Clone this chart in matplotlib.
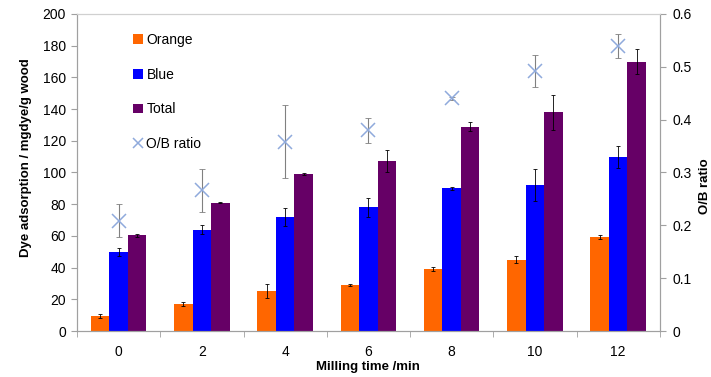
import matplotlib.pyplot as plt
import numpy as np

plt.rcParams['font.family'] = ['Liberation Sans', 'DejaVu Sans']

times = ['0', '2', '4', '6', '8', '10', '12']
orange = [9.5, 17, 25, 29, 39, 45, 59.5]
orange_err = [1.5, 1.2, 4.4, 0.5, 1.2, 2.0, 1.2]
blue = [50, 64, 72, 78, 90, 92, 110]
blue_err = [2.5, 3.0, 5.5, 6.0, 1.0, 10, 7.0]
total = [60.5, 81, 99, 107, 129, 138, 170]
total_err = [1.0, 0.5, 0.5, 7.0, 3.0, 11, 8.0]
ratio = [0.209, 0.266, 0.358, 0.380, 0.440, 0.492, 0.540]
ratio_err = [0.031, 0.040, 0.069, 0.024, 0.003, 0.030, 0.023]

fig = plt.figure(figsize=(7.11, 3.77), dpi=100)
ax = fig.add_axes([0.1083, 0.122, 0.8197, 0.841])
ax2 = ax.twinx()

x = np.arange(len(times))
w = 0.222
ekw = dict(ecolor='black', elinewidth=0.6, capsize=1.5, capthick=0.6)
ax.bar(x - w, orange, w, yerr=orange_err, color='#FF6600', label='Orange', error_kw=ekw, zorder=2)
ax.bar(x, blue, w, yerr=blue_err, color='#0000FF', label='Blue', error_kw=ekw, zorder=2)
ax.bar(x + w, total, w, yerr=total_err, color='#660066', label='Total', error_kw=ekw, zorder=2)

ax2.errorbar(x, ratio, yerr=ratio_err, fmt='none', ecolor='#808080', elinewidth=0.8,
             capsize=2, capthick=0.6, zorder=3)
ax2.plot(x, ratio, 'x', color='#8FAADC', markersize=10, markeredgewidth=1.1,
         label='O/B ratio', zorder=4)

ax.set_xlim(-0.5, len(times) - 0.5)
ax.set_ylim(0, 200)
ax.set_yticks(range(0, 201, 20))
ax2.set_ylim(0, 0.6)
ax2.set_yticks(np.arange(0, 0.61, 0.1))
ax2.set_yticklabels(['0', '0.1', '0.2', '0.3', '0.4', '0.5', '0.6'])

ax.set_xticks(x)
ax.set_xticklabels(times)
ax.set_xticks(np.arange(-0.5, len(times), 1), minor=True)
ax.tick_params(axis='x', which='major', length=0, labelsize=10, pad=10)
ax.tick_params(axis='x', which='minor', length=4, color='#A0A0A0', direction='out')
ax.tick_params(axis='y', labelsize=10, length=4, color='#A0A0A0', pad=4)
ax2.tick_params(axis='y', labelsize=10, length=4, color='#A0A0A0', pad=5)

for a in (ax, ax2):
    for s in a.spines.values():
        s.set_color('#A0A0A0')
        s.set_linewidth(0.8)
ax2.spines['top'].set_color('#D0D0D0')
ax.spines['top'].set_color('#D0D0D0')

ax.set_xlabel('Milling time /min', fontsize=9.5, fontweight='bold')
ax.xaxis.set_label_coords(0.5, -0.095)
ax.set_ylabel('Dye adsorption / mgdye/g wood', fontsize=9.5, fontweight='bold')
ax.yaxis.set_label_coords(-0.077, 0.546)
ax2.set_ylabel('O/B ratio', fontsize=9.5, fontweight='bold', rotation=90)
ax2.yaxis.set_label_coords(1.067, 0.457)

h1, l1 = ax.get_legend_handles_labels()
h2, l2 = ax2.get_legend_handles_labels()
leg = ax2.legend(h1 + h2, l1 + l2, loc='upper left', bbox_to_anchor=(0.075, 0.98),
                 frameon=False, fontsize=10, labelspacing=1.5, markerscale=0.65,
                 handlelength=0.7, handleheight=0.7, handletextpad=0.25)

fig.savefig('out.png', dpi=100)
